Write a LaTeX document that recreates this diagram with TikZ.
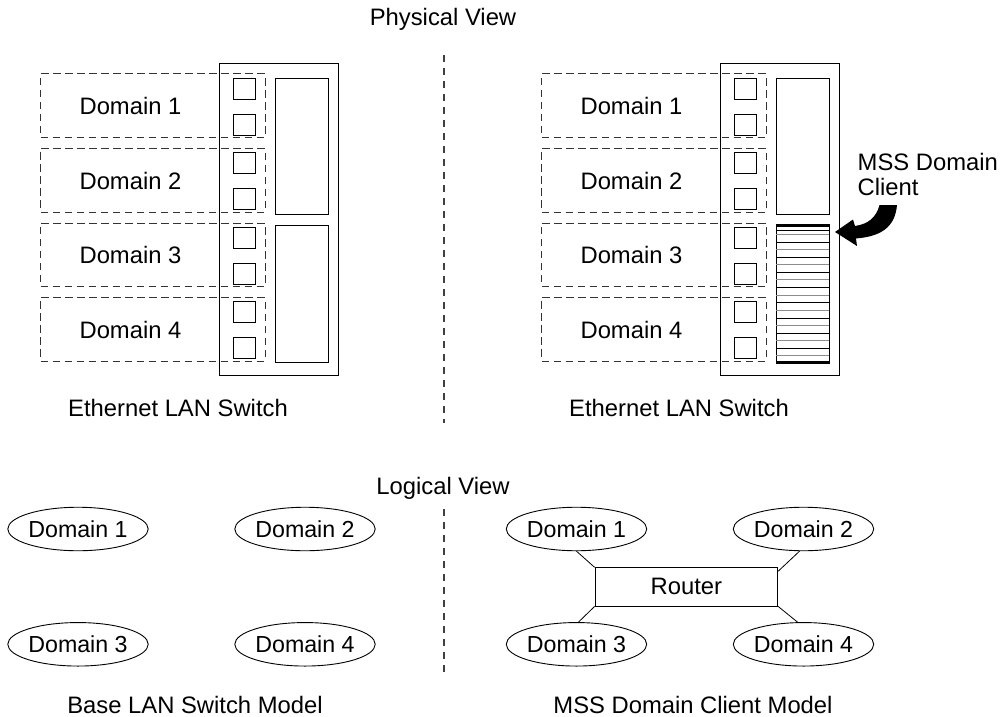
\documentclass[tikz,border=0pt]{standalone}
\usepackage{fontspec}
\setmainfont{Liberation Sans}
\usetikzlibrary{shapes.geometric}
\begin{document}
\begin{tikzpicture}[x=1pt,y=-1pt,
  lbl/.style={font=\fontsize{23.8}{27}\selectfont, inner sep=0pt},
  dombox/.style={draw=black!80, dash pattern=on 7.5pt off 4.5pt, line width=1pt, minimum width=224.3pt, minimum height=63.5pt, inner sep=0pt},
  port/.style={draw, line width=0.9pt, minimum width=22pt, minimum height=21pt, inner sep=0pt},
  switchbox/.style={draw, line width=0.9pt, minimum width=119pt, minimum height=311.7pt, inner sep=0pt},
  bigbox/.style={draw, line width=0.9pt, minimum width=53pt, inner sep=0pt},
  dom/.style={ellipse, draw, line width=0.9pt, minimum width=132.5pt, minimum height=43.5pt, inner sep=0pt, font=\fontsize{23.2}{27}\selectfont},
  router/.style={draw, line width=0.9pt, minimum width=182.7pt, minimum height=38.3pt, inner sep=0pt, font=\fontsize{23.8}{27}\selectfont},
  sep/.style={draw=black!75, line width=1.2pt, dash pattern=on 7pt off 6pt},
  link/.style={draw, line width=0.8pt}
]
\useasboundingbox (0,0) rectangle (1001,717);

% titles
\node[lbl, anchor=base] (tphys) at (443,26) {Physical View};
\node[lbl, anchor=base] (tlog) at (443,494) {Logical View};

% central separator
\coordinate (s1) at (444,55);
\coordinate (s2) at (444,423);
\coordinate (s3) at (444,509);
\coordinate (s4) at (444,673);
\draw[sep] (s1) -- (s2);
\draw[sep] (s3) -- (s4);

% switches (common parts)
\foreach \s/\dx in {L/0,R/501}{
  \node[switchbox] (sw\s) at (278.8+\dx,219.15) {};
  \foreach \i/\t in {1/74,2/148.5,3/223,4/297.5}{
    \node[dombox] (dom\s\i) at (152.85+\dx,\t+31.75) {};
    \node[lbl, anchor=base] (domt\s\i) at (130.5+\dx,\t+40.5) {Domain \i};
    \node[port] (pa\s\i) at (244.9+\dx,\t+14.8) {};
    \node[port] (pb\s\i) at (244.9+\dx,\t+50.5) {};
  }
  \node[bigbox, minimum height=136pt] (bigA\s) at (301.9+\dx,146.3) {};
  \node[lbl, anchor=base] (eth\s) at (178+\dx,416) {Ethernet LAN Switch};
}
\node[bigbox, minimum height=136.6pt] (bigBL) at (301.9,294) {};

% MSS domain client (striped)
\node[bigbox, minimum height=136.6pt] (mss) at (802.9,294) {};
\draw[line width=2.6pt] (mss.north west) -- (mss.north east);
\draw[line width=2.6pt] (mss.south west) -- (mss.south east);
\draw[line width=0.8pt] (776.4,230.3) -- (829.4,230.3);
\foreach \k in {0,...,16}{
  \pgfmathsetmacro{\yy}{234.3+7.6*\k}
  \ifodd\k
    \draw[line width=0.8pt, black] (776.4,\yy) -- (829.4,\yy);
  \else
    \draw[line width=1pt, black!45] (776.4,\yy) -- (829.4,\yy);
  \fi
}

\node[lbl, anchor=base west, align=left] (mssl) at (857.5,170) {MSS Domain};
\node[lbl, anchor=base west] (mssc) at (857.5,195) {Client};

% curved fat arrow
\fill (835,232) -- (853,219.5) -- (855,226) .. controls (868,224) and (876,218) .. (879.5,205)
  -- (897,205) .. controls (895,228) and (880,236.5) .. (856,238.5) -- (857,246) -- cycle;

% logical view, left
\node[dom] (lA) at (78,529) {Domain 1};
\node[dom] (lB) at (305,529) {Domain 2};
\node[dom] (lC) at (78,644.3) {Domain 3};
\node[dom] (lD) at (305,644.3) {Domain 4};
\node[lbl, anchor=base] (basem) at (195,713) {Base LAN Switch Model};

% logical view, right
\node[dom] (rA) at (576.5,529) {Domain 1};
\node[dom] (rB) at (803.5,529) {Domain 2};
\node[dom] (rC) at (576.5,644.3) {Domain 3};
\node[dom] (rD) at (803.5,644.3) {Domain 4};
\node[router] (rt) at (686.35,586.85) {Router};
\node[lbl, anchor=base] (mssm) at (693,713) {MSS Domain Client Model};

\draw[link] (rA.south) -- (rt.north west);
\draw[link] ([xshift=-4pt]rB.south) -- ([yshift=-4pt]rt.north east);
\draw[link] ([xshift=2pt]rC.north) -- (rt.south west);
\draw[link] ([xshift=-6pt]rD.north) -- (rt.south east);
\end{tikzpicture}
\end{document}
